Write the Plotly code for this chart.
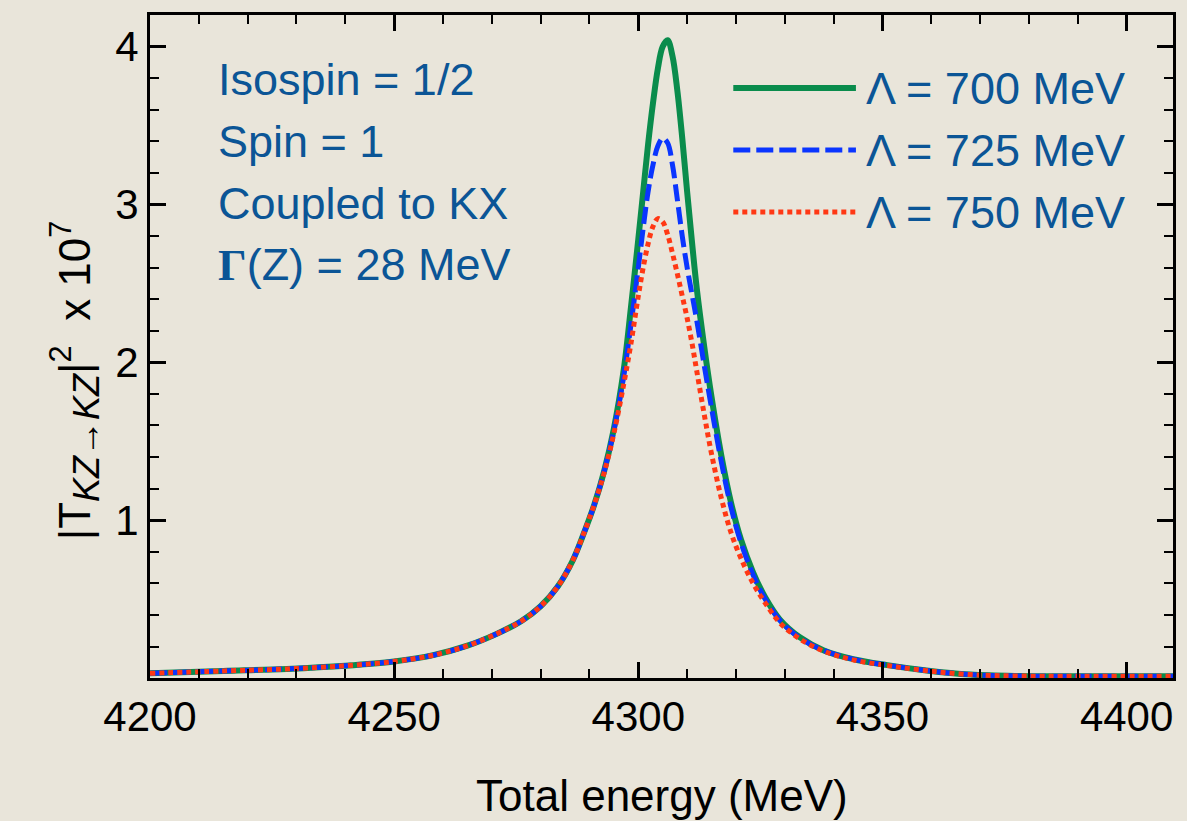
import plotly.graph_objects as go

# ---------------- data ----------------
energy = [4200, 4215, 4228, 4240, 4250, 4258, 4265, 4271, 4276, 4280, 4283.5, 4286.5,
          4289, 4291, 4293, 4295, 4297, 4298.5, 4300, 4301, 4302, 4303, 4304, 4305,
          4306, 4307, 4308, 4309, 4310, 4311, 4312, 4313.5, 4315, 4317, 4319, 4321,
          4323.5, 4326, 4329, 4333, 4338, 4344, 4351, 4359, 4368, 4378, 4390, 4410]

t2_700 = [0.030, 0.045, 0.058, 0.078, 0.105, 0.145, 0.205, 0.28, 0.36, 0.455, 0.58, 0.74,
          0.93, 1.10, 1.31, 1.58, 1.95, 2.35, 2.78, 3.08, 3.38, 3.64, 3.86, 4.00,
          4.04, 3.94, 3.72, 3.42, 3.08, 2.76, 2.46, 2.10, 1.78, 1.41, 1.11, 0.88,
          0.67, 0.51, 0.37, 0.26, 0.175, 0.12, 0.082, 0.048, 0.022, 0.013, 0.012, 0.012]

t2_725 = [0.030, 0.045, 0.058, 0.078, 0.105, 0.145, 0.205, 0.28, 0.36, 0.455, 0.58, 0.74,
          0.93, 1.10, 1.31, 1.57, 1.91, 2.24, 2.60, 2.85, 3.08, 3.25, 3.37, 3.42,
          3.39, 3.25, 3.03, 2.80, 2.60, 2.43, 2.26, 1.98, 1.71, 1.37, 1.08, 0.86,
          0.655, 0.50, 0.365, 0.255, 0.175, 0.12, 0.082, 0.048, 0.022, 0.013, 0.012, 0.012]

t2_750 = [0.030, 0.045, 0.058, 0.078, 0.105, 0.145, 0.205, 0.28, 0.36, 0.455, 0.58, 0.74,
          0.93, 1.10, 1.30, 1.55, 1.86, 2.12, 2.42, 2.60, 2.75, 2.86, 2.91, 2.89,
          2.81, 2.69, 2.56, 2.42, 2.28, 2.12, 1.94, 1.67, 1.42, 1.14, 0.92, 0.76,
          0.60, 0.475, 0.35, 0.25, 0.17, 0.115, 0.08, 0.047, 0.022, 0.013, 0.012, 0.012]

series_names = ["Λ = 700 MeV", "Λ = 725 MeV", "Λ = 750 MeV"]
info_lines = ["Isospin = 1/2", "Spin = 1", "Coupled to KX",
              "<b><span style=\"font-family:'Liberation Serif', 'DejaVu Serif', serif\">Γ</span></b>(Z) = 28 MeV"]
x_range = [4200, 4409.5]
y_range = [0.0005, 4.2]

# ---------------- style ----------------
BG = "#e9e5da"
TXT = "#0b5596"
FONT = "Liberation Sans, Arial, sans-serif"
GREEN = "#0a8c4c"
BLUE = "#0a35ff"
RED = "#ff3814"

styles = [
    dict(color=GREEN, width=6, dash="solid"),
    dict(color=BLUE, width=5, dash="17px,6px"),
    dict(color=RED, width=5, dash="5px,4px"),
]

fig = go.Figure()
for name, ys, st in zip(series_names, [t2_700, t2_725, t2_750], styles):
    fig.add_trace(go.Scatter(x=energy, y=ys, mode="lines", name=name,
                             line=dict(shape="spline", smoothing=1.0, **st),
                             showlegend=False, hoverinfo="skip"))

fig.update_layout(
    width=1187, height=821,
    paper_bgcolor=BG, plot_bgcolor=BG,
    margin=dict(l=150, r=11, t=15, b=143),
    font=dict(family=FONT, color="black"),
)

fig.update_xaxes(
    range=x_range, tickmode="linear", tick0=4200, dtick=50,
    ticks="inside", ticklen=16, tickwidth=3,
    tickcolor="black", showline=True, linewidth=3, linecolor="black", mirror="allticks",
    showgrid=False, zeroline=False, tickfont=dict(size=42, family=FONT),
    ticklabelstandoff=0,
    minor=dict(tick0=4200, dtick=10, ticks="inside", ticklen=9, tickwidth=2,
               tickcolor="black", showgrid=False),
)
fig.update_yaxes(
    range=y_range, tickmode="linear", tick0=0, dtick=1,
    ticks="inside", ticklen=16, tickwidth=3,
    tickcolor="black", showline=True, linewidth=3, linecolor="black", mirror="allticks",
    showgrid=False, zeroline=False, tickfont=dict(size=42, family=FONT),
    minor=dict(tick0=0, dtick=0.2, ticks="inside", ticklen=9, tickwidth=2,
               tickcolor="black", showgrid=False),
)

PW, PH = 1026.0, 663.0
def px(x):
    return (x - 150) / PW
def py(y):
    return (678 - y) / PH

# axis titles
fig.add_annotation(
    xref="paper", yref="paper", x=px(75), y=py(380), textangle=-90, showarrow=False,
    text="|T<sub><span style=\"font-size:36px\"><i>KZ→KZ</i></span></sub>|<sup>2</sup>  x 10<sup>7</sup>",
    font=dict(size=44, family=FONT, color="black"), xanchor="center", yanchor="middle",
)
fig.add_annotation(
    xref="paper", yref="paper", x=0.5, y=py(795), showarrow=False,
    text="Total energy (MeV)", font=dict(size=44, family=FONT, color="black"),
    xanchor="center", yanchor="middle",
)

# info text block
for i, line in enumerate(info_lines):
    fig.add_annotation(xref="paper", yref="paper", x=px(216), y=py(80 + 61.5 * i),
                       text=line, showarrow=False, xanchor="left", yanchor="middle",
                       font=dict(size=45, family=FONT, color=TXT))

# legend drawn manually
for i, (name, st) in enumerate(zip(series_names, styles)):
    yy = py(88 + 62 * i)
    fig.add_shape(type="line", xref="paper", yref="paper",
                  x0=px(735), x1=px(858), y0=yy, y1=yy,
                  line=dict(color=st["color"], width=st["width"], dash=st["dash"]))
    fig.add_annotation(xref="paper", yref="paper", x=px(866), y=yy, text=name,
                       showarrow=False, xanchor="left", yanchor="middle",
                       font=dict(size=45, family=FONT, color=TXT))

fig.write_html(
    "out.html",
    config={"displayModeBar": False},
    post_script=("document.body.style.margin='0';document.body.style.padding='0';"
                 "document.body.style.overflow='hidden';"
                 "document.body.style.background='" + BG + "';"),
)
